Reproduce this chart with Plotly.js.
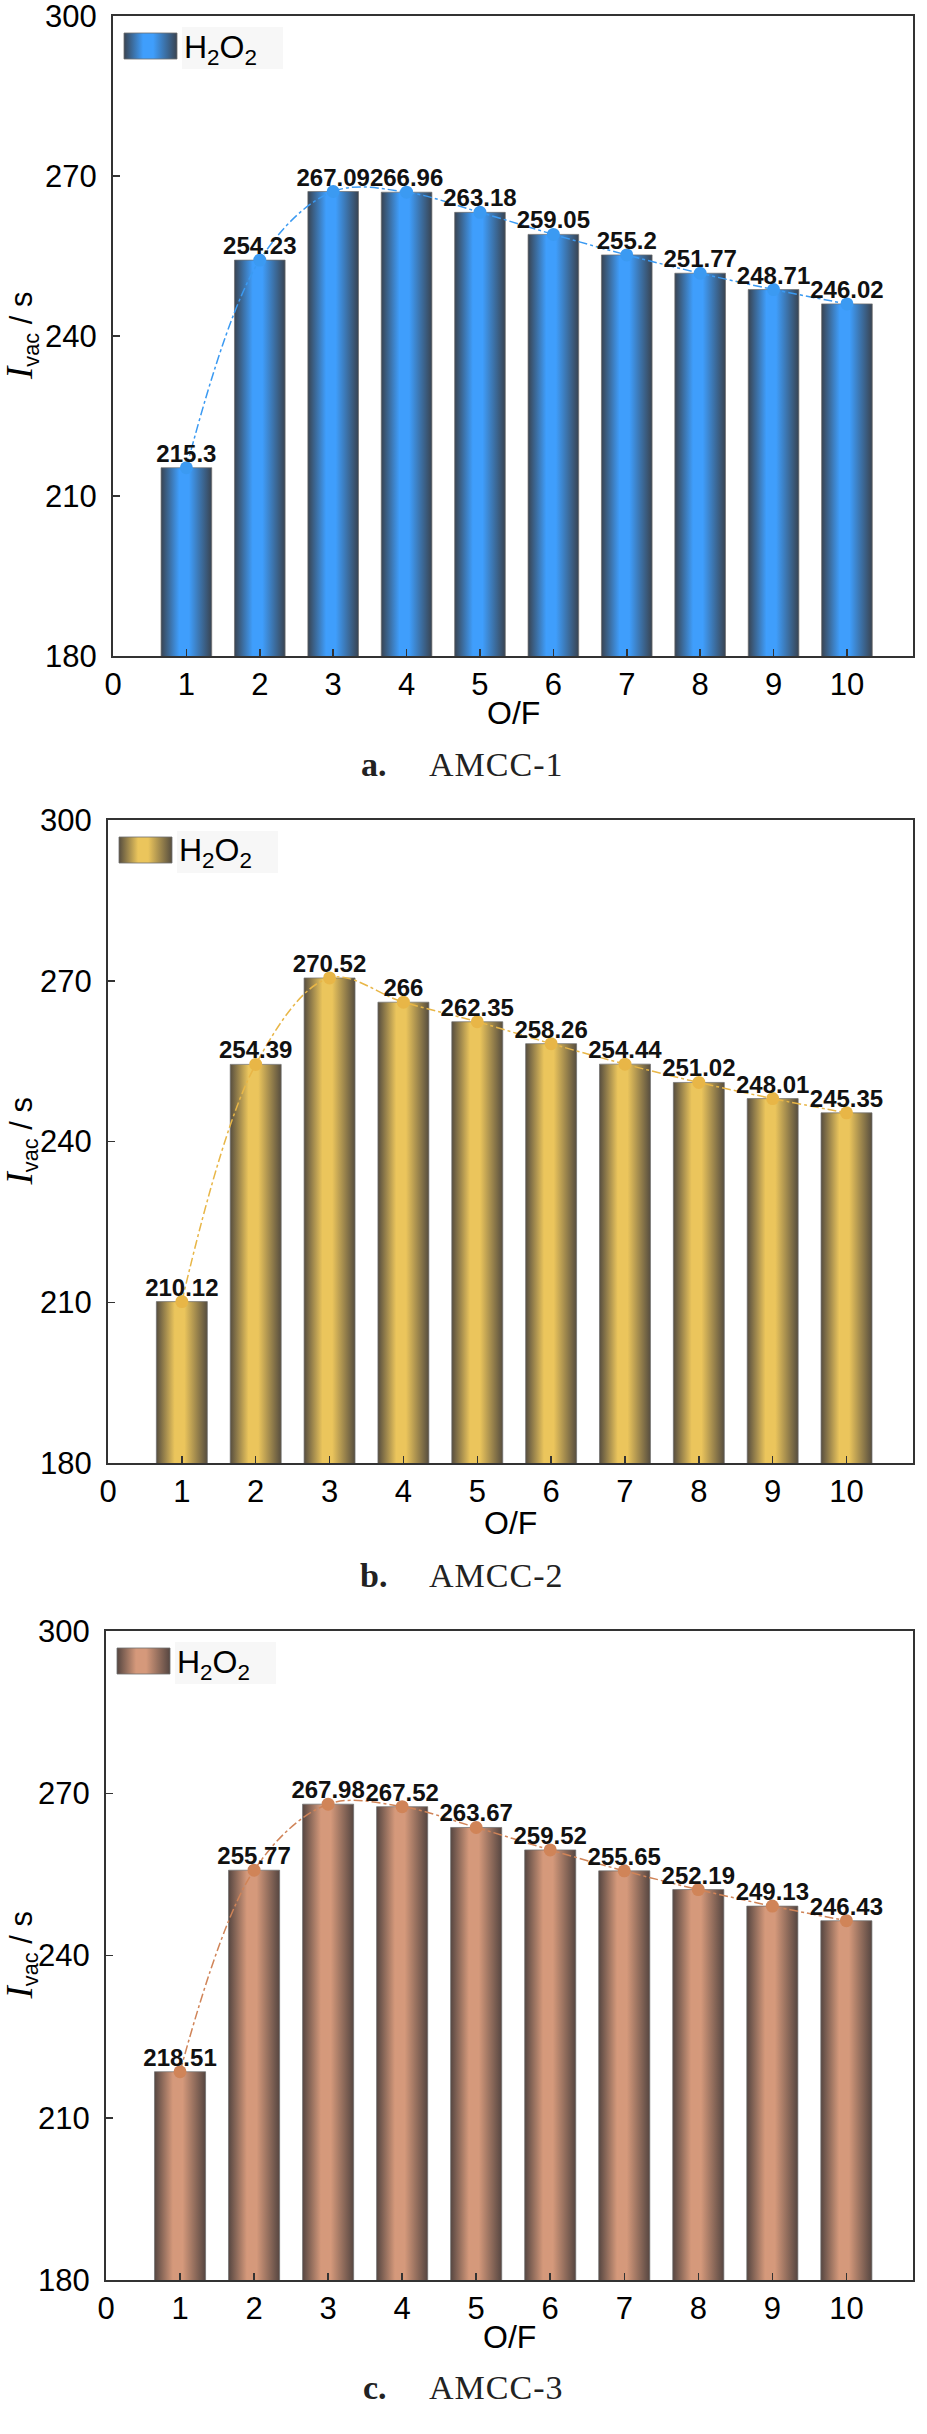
<!DOCTYPE html>
<html>
<head>
<meta charset="utf-8">
<script src="https://cdn.plot.ly/plotly-3.0.1.min.js"></script>
<style>
html,body{margin:0;padding:0;background:#fff}
#chart{width:927px;height:2434px}
</style>
</head>
<body>
<div id="chart"></div>
<script>
// O/F ratio and vacuum specific impulse for the three AMCC formulations
const ofRatio = [1, 2, 3, 4, 5, 6, 7, 8, 9, 10];
const amcc1 = [215.3, 254.23, 267.09, 266.96, 263.18, 259.05, 255.2, 251.77, 248.71, 246.02];
const amcc2 = [210.12, 254.39, 270.52, 266, 262.35, 258.26, 254.44, 251.02, 248.01, 245.35];
const amcc3 = [218.51, 255.77, 267.98, 267.52, 263.67, 259.52, 255.65, 252.19, 249.13, 246.43];
const panelLetters = ['a.', 'b.', 'c.'];
const panelNames = ['AMCC-1', 'AMCC-2', 'AMCC-3'];
const xTicks = [0, 1, 2, 3, 4, 5, 6, 7, 8, 9, 10];
const yTicks = [180, 210, 240, 270, 300];
const seriesName = 'H<sub>2</sub>O<sub>2</sub>';

const W = 927, H = 2434;
const px = x => x / W, py = y => 1 - y / H;

// pixel frame of each panel
const frames = [
  {l:113, t:16,   b:656,  of:713,  cap:764},
  {l:108, t:820,  b:1463, of:1523, cap:1575},
  {l:106, t:1631, b:2280, of:2337, cap:2387}
];
const R = 913;
const looks = [
  {line:'#3b9af2', edge:'#394452', mid:'#3f9efc'},
  {line:'#e8b647', edge:'#574e3f', mid:'#ebc55c'},
  {line:'#d08458', edge:'#564641', mid:'#d5997b'}
];
const allSeries = [amcc1, amcc2, amcc3];

const traces = [], shapes = [], annotations = [];
const layout = {
  width:W, height:H, margin:{l:0, r:0, t:0, b:0, pad:0},
  paper_bgcolor:'#fff', plot_bgcolor:'#fff', showlegend:false, barmode:'overlay',
  font:{family:'Liberation Sans, Arial, sans-serif', size:31, color:'#000'}
};

allSeries.forEach((vals, i) => {
  const f = frames[i], c = looks[i], n = i === 0 ? '' : String(i + 1);
  const xa = 'x' + n, ya = 'y' + n;
  traces.push({type:'bar', x:ofRatio, y:vals, width:0.69, xaxis:xa, yaxis:ya,
    marker:{color:c.mid, line:{color:'rgba(110,110,110,0.7)', width:1}}, hoverinfo:'skip'});
  traces.push({type:'scatter', mode:'lines+markers', x:ofRatio, y:vals, xaxis:xa, yaxis:ya,
    line:{color:c.line, width:1.5, dash:'dashdot', shape:'spline', smoothing:1},
    marker:{color:c.line, size:13}, hoverinfo:'skip'});
  traces.push({type:'scatter', mode:'text', x:ofRatio, y:vals, xaxis:xa, yaxis:ya,
    text:vals.map(String), textposition:'top center', cliponaxis:false,
    textfont:{family:'Liberation Sans, Arial, sans-serif', size:24, color:'#111', weight:700}, hoverinfo:'skip'});

  const axCommon = {showgrid:false, zeroline:false, showline:true, mirror:true, linecolor:'#333', linewidth:2,
    ticks:'inside', ticklen:7, tickwidth:1.5, tickcolor:'#333', ticklabeloverflow:'allow',
    tickfont:{size:31, color:'#000'}};
  layout['xaxis' + n] = Object.assign({}, axCommon, {domain:[px(f.l), px(R)], range:[0, 10.9],
    anchor:ya, tickmode:'array', tickvals:xTicks, ticklabelstandoff:0});
  layout['yaxis' + n] = Object.assign({}, axCommon, {domain:[py(f.b), py(f.t)], range:[180, 300],
    anchor:xa, tickmode:'array', tickvals:yTicks, ticklabelstandoff:8});

  // legend: faint box, gradient swatch, label
  shapes.push({type:'rect', xref:'paper', yref:'paper', layer:'below',
    x0:px(f.l + 69), x1:px(f.l + 170), y0:py(f.t + 53), y1:py(f.t + 11),
    fillcolor:'#f7f7f7', line:{width:0}});
  shapes.push({type:'rect', xref:'paper', yref:'paper', layer:'above',
    x0:px(f.l + 11), x1:px(f.l + 64), y0:py(f.t + 43), y1:py(f.t + 17),
    fillcolor:c.mid, line:{color:'rgba(110,110,110,0.8)', width:1}});
  annotations.push({xref:'paper', yref:'paper', x:px(f.l + 69), y:py(f.t + 33), xanchor:'left', yanchor:'middle',
    text:seriesName, showarrow:false, font:{size:32, color:'#000'}});

  // axis titles
  annotations.push({xref:'paper', yref:'paper', x:px((f.l + R) / 2), y:py(f.of), xanchor:'center', yanchor:'middle',
    text:'O/F', showarrow:false, font:{size:32, color:'#000'}});
  annotations.push({xref:'paper', yref:'paper', x:px(21), y:py((f.t + f.b) / 2), xanchor:'center', yanchor:'middle',
    textangle:-90, showarrow:false, font:{size:31, color:'#000'},
    text:'<span style="font-family:\'Liberation Serif\',serif;font-style:italic;font-size:37px">I</span><sub>vac</sub> / s'});

  // caption
  annotations.push({xref:'paper', yref:'paper', x:px(389), y:py(f.cap), xanchor:'right', yanchor:'middle',
    text:'<b>' + panelLetters[i] + '</b>', showarrow:false,
    font:{family:'Liberation Serif, serif', size:34, color:'#222'}});
  annotations.push({xref:'paper', yref:'paper', x:px(427), y:py(f.cap), xanchor:'left', yanchor:'middle',
    text:'<span style="letter-spacing:1px">' + panelNames[i] + '</span>', showarrow:false,
    font:{family:'Liberation Serif, serif', size:34, color:'#222'}});
});
layout.shapes = shapes;
layout.annotations = annotations;

const NS = 'http://www.w3.org/2000/svg';
function paintGradients(gd){
  const defs = gd.querySelector('.main-svg defs');
  looks.forEach((c, i) => {
    const g = document.createElementNS(NS, 'linearGradient');
    g.setAttribute('id', 'barGrad' + i);
    g.setAttribute('x1', '0'); g.setAttribute('x2', '1'); g.setAttribute('y1', '0'); g.setAttribute('y2', '0');
    [[0, c.edge], [0.36, c.mid], [0.55, c.mid], [1, c.edge]].forEach(([o, col]) => {
      const s = document.createElementNS(NS, 'stop');
      s.setAttribute('offset', o); s.setAttribute('stop-color', col);
      g.appendChild(s);
    });
    defs.appendChild(g);
  });
  ['xy', 'x2y2', 'x3y3'].forEach((sp, i) => {
    gd.querySelectorAll('.subplot.' + sp + ' .barlayer path').forEach(p => { p.style.fill = 'url(#barGrad' + i + ')'; });
  });
  gd.querySelectorAll('.layer-above .shapelayer path').forEach((p, i) => { p.style.fill = 'url(#barGrad' + i + ')'; });
}

const gd = document.getElementById('chart');
Plotly.newPlot(gd, traces, layout, {displayModeBar:false, staticPlot:true}).then(paintGradients);
</script>
</body>
</html>
